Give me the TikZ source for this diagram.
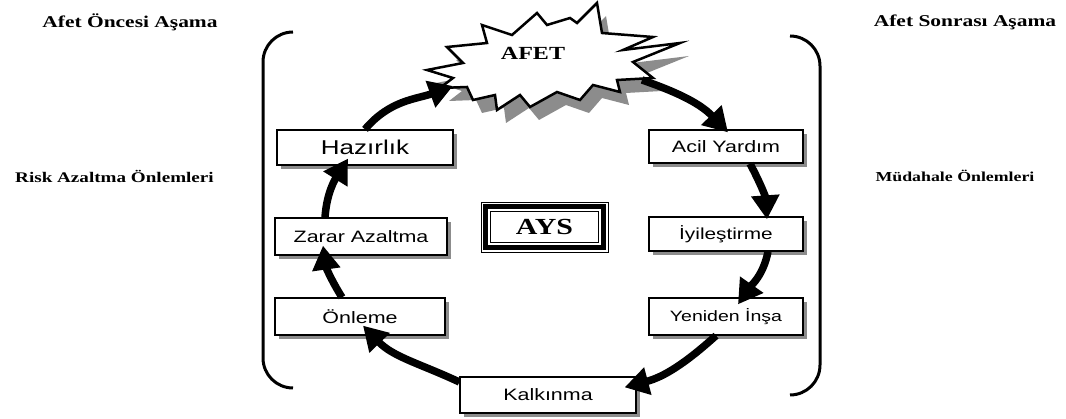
\documentclass[tikz,border=0pt]{standalone}
\usepackage{fontspec}
\usepackage{graphicx}
\setmainfont{Liberation Serif}
\newfontfamily\arial{Liberation Sans}
\usetikzlibrary{arrows.meta,shadows}
\newcommand{\hs}[1]{\scalebox{1.3}[1]{#1}}
\begin{document}
\begin{tikzpicture}[x=1pt,y=1pt,
  box/.style={draw=black, line width=1.3pt, fill=white, inner sep=0pt,
    font=\arial\fontsize{16.5}{18}\selectfont,
    drop shadow={shadow xshift=4pt, shadow yshift=-4pt, fill=black!45, opacity=1}},
  cyc/.style={line width=7.5pt, -{Triangle[length=24pt,width=27pt]}},
  lbl/.style={inner sep=0pt, font=\bfseries\fontsize{16.5}{18}\selectfont},
  bracket/.style={line width=3pt, rounded corners=30pt}]
\useasboundingbox (0,0) rectangle (1066,-419);

% side labels
\node[lbl] (pre) at (130,-22) {\hs{Afet Öncesi Aşama}};
\node[lbl] (post) at (965,-22) {\hs{Afet Sonrası Aşama}};
\node[lbl, font=\bfseries\fontsize{14.7}{16}\selectfont] (risk) at (114.5,-176) {\hs{Risk Azaltma Önlemleri}};
\node[lbl, font=\bfseries\fontsize{13.7}{15}\selectfont] (mud) at (955,-176) {\hs{Müdahale Önlemleri}};

% brackets
\draw[bracket] (293,-32) -| (263,-210) |- (293,-388);
\draw[bracket] (790,-36) -| (820,-215) |- (790,-395);

% starburst
\fill[black!45] (436,-83) -- (472,-76) -- (456,-60) -- (496,-56) -- (491,-38) -- (521,-48) -- (546,-26) -- (556,-38) -- (579,-31) -- (586,-36) -- (606,-16) -- (611,-46) -- (662,-50) -- (632,-63) -- (689,-56) -- (642,-75) -- (662,-91) -- (626,-93) -- (629,-105) -- (602,-98) -- (589,-113) -- (566,-105) -- (539,-120) -- (529,-108) -- (506,-123) -- (504,-108) -- (482,-113) -- (476,-100) -- (449,-101) -- (462,-91) -- cycle;
\draw[line width=2.5pt, fill=white, line join=miter] (427,-70) -- (463,-63) -- (447,-47) -- (487,-43) -- (482,-25) -- (512,-35) -- (537,-13) -- (547,-25) -- (570,-18) -- (577,-23) -- (597,-3) -- (602,-33) -- (653,-37) -- (623,-50) -- (680,-43) -- (633,-62) -- (653,-78) -- (617,-80) -- (620,-92) -- (593,-85) -- (580,-100) -- (557,-92) -- (530,-107) -- (520,-95) -- (497,-110) -- (495,-95) -- (473,-100) -- (467,-87) -- (440,-88) -- (453,-78) -- cycle;
\node[font=\bfseries\fontsize{18.5}{20}\selectfont, inner sep=0pt] (afet) at (533,-53) {\hs{AFET}};
\coordinate (afetL) at (453,-86);
\coordinate (afetR) at (642,-80);

% boxes
\node[box, minimum width=176pt, minimum height=35pt, font=\arial\fontsize{20}{22}\selectfont] (hazir) at (365,-147.5) {\hs{Hazırlık}};
\node[box, minimum width=154pt, minimum height=33pt] (acil) at (726,-146.5) {\hs{Acil Yardım}};
\node[box, minimum width=154pt, minimum height=34pt, font=\arial\fontsize{16}{18}\selectfont] (iyi) at (726,-234) {\hs{İyileştirme}};
\node[box, minimum width=172pt, minimum height=37pt] (zarar) at (361,-236.5) {\hs{Zarar Azaltma}};
\node[box, minimum width=170pt, minimum height=37pt] (onleme) at (360,-316.5) {\hs{Önleme}};
\node[box, minimum width=154pt, minimum height=37pt, font=\arial\fontsize{15}{17}\selectfont] (yeni) at (726,-316.5) {\hs{Yeniden İnşa}};
\node[box, minimum width=176pt, minimum height=36pt] (kalk) at (548,-395) {\hs{Kalkınma}};

% AYS
\node[draw, line width=0.8pt, minimum width=127pt, minimum height=50pt, inner sep=0pt,
  font=\bfseries\fontsize{23}{25}\selectfont] (ays) at (544.5,-227) {\hs{AYS}};
\draw[line width=5pt] ([shift={(4.8,-4.8)}]ays.north west) rectangle ([shift={(-4.8,4.8)}]ays.south east);
\draw[line width=0.8pt] ([shift={(10,-10)}]ays.north west) rectangle ([shift={(-10,10)}]ays.south east);

% cycle arrows
\draw[cyc] (hazir.north) to[out=50,in=200] (afetL);
\draw[cyc] (afetR) to[out=-19,in=134] ([shift={(2,-3)}]acil.north);
\draw[cyc] ([xshift=24pt]acil.south) to[out=-62,in=94] ([shift={(41,-3)}]iyi.north);
\draw[cyc] ([xshift=42pt]iyi.south) to[out=-101,in=55] ([shift={(12,-7)}]yeni.north);
\draw[cyc] ([xshift=-10pt]yeni.south) to[out=-138,in=15] ([shift={(-12,-11)}]kalk.north east);
\draw[cyc] ([yshift=13pt]kalk.west) to[out=155,in=-46] ([shift={(3,10)}]onleme.south);
\draw[cyc] ([xshift=-18pt]onleme.north) to[out=122,in=278] ([shift={(-38,10)}]zarar.south);
\draw[cyc] ([xshift=-36pt]zarar.north) to[out=86,in=238] ([shift={(-17,7)}]hazir.south);
\end{tikzpicture}
\end{document}
